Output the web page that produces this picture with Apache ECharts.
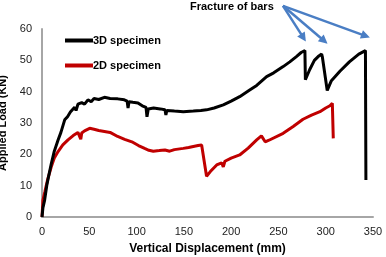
<!DOCTYPE html>
<html><head><meta charset="utf-8">
<script src="https://cdn.jsdelivr.net/npm/echarts@6/dist/echarts.min.js"></script>
<style>html,body{margin:0;padding:0;background:#fff}#c{width:386px;height:257px}</style>
</head><body><div id="c"></div>
<script>
const seriesNames = ['3D specimen', '2D specimen'];
const xTicks = [0, 50, 100, 150, 200, 250, 300, 350];
const yTicks = [0, 10, 20, 30, 40, 50, 60];
const data3D = [[0,0],[1,3],[2.8,5.4],[5,10],[7,13],[9.8,17],[13,21],[17,24.6],[20,27],[24,31],[27,32],[30,33.5],[34.5,35],[36,34],[38,36],[42,36.5],[45,36],[48.6,37.4],[52,36.8],[55,37.8],[60,37.5],[66,38.2],[72,37.8],[80,37.7],[87,37.4],[90,37],[91,34.8],[92,36.8],[96,36.6],[101.5,36.4],[106,35.5],[110,35],[111,32],[112.4,34.5],[118,34.8],[125,34.5],[130,34.2],[131,32.6],[132,34],[140,33.8],[149.4,33.6],[160,33.8],[168,34],[174,34.2],[182,34.8],[191.7,35.8],[200,37],[209,38.4],[220,40.6],[227,42],[237.5,44.8],[245,46],[255,48],[262,49.5],[269,51.2],[274,52.5],[278,53.1],[278.5,43.8],[283,47],[288,50],[292,51.2],[295.7,52],[296.5,51],[301.6,40.4],[306,43.5],[315,46.5],[325,49.5],[335,52],[342,53.1],[342.5,11.8]];
const data2D = [[0,0],[1,5.4],[3,8],[6,12],[9.8,16],[13,18.8],[17,20.9],[22,23],[27.5,24.6],[33,26],[38,27],[40,26.5],[41,24.8],[42,26.8],[45,27.5],[50.4,28.3],[55,28],[60,27.6],[66,27.3],[72,27],[80,25.7],[87.4,24.8],[95,24],[102,22.8],[108.5,21.9],[113,21.3],[117.7,21],[124,21.2],[130,21.4],[135,21],[140,21.5],[149.4,21.9],[155,22.2],[160,22.5],[165,22.8],[168.8,23],[170.5,22.8],[174,13],[178,14.5],[184.7,16.6],[190,17.3],[191.7,16],[193.4,17.8],[200,18.8],[209,19.8],[218,22],[227,24.6],[232,25.9],[236,24],[240,24.5],[255,26.7],[265.6,28.9],[276,31.2],[285,32.5],[293.9,33.6],[300,34.8],[304.4,35.5],[307,36.3],[308,25.1]];
const annotationText = 'Fracture of bars';
const arrowStart = [254.8, 67.4];
const arrowTargets = [[279, 56], [302, 55.3], [346.7, 57.3]];

const font = 'Liberation Sans';
const chart = echarts.init(document.getElementById('c'), null, {renderer: 'canvas'});
chart.setOption({
  animation: false,
  grid: {left: 42, right: 13, top: 29, bottom: 40, containLabel: false, outerBoundsMode: 'none'},
  legend: {
    orient: 'vertical', left: 60, top: 30, itemGap: 14,
    itemWidth: 28, itemHeight: 4, icon: 'rect',
    textStyle: {fontFamily: font, fontWeight: 'bold', fontSize: 11, color: '#000', padding: [0,0,0,-5]},
    data: seriesNames
  },
  xAxis: {
    type: 'value', min: 0, max: 350, interval: 50,
    name: 'Vertical Displacement (mm)', nameLocation: 'middle', nameGap: 26,
    nameTextStyle: {fontFamily: font, fontWeight: 'bold', fontSize: 12, color: '#000'},
    axisLine: {lineStyle: {color: '#A6A6A6', width: 2}},
    axisTick: {show: false},
    splitLine: {show: false},
    axisLabel: {fontFamily: font, fontSize: 11, color: '#222', margin: 9}
  },
  yAxis: {
    type: 'value', min: 0, max: 60, interval: 10,
    name: 'Applied Load (KN)', nameLocation: 'middle', nameGap: 26,
    nameTextStyle: {fontFamily: font, fontWeight: 'bold', fontSize: 11, color: '#000'},
    axisLine: {show: true, lineStyle: {color: '#A6A6A6', width: 2}},
    axisTick: {show: false},
    splitLine: {show: false},
    axisLabel: {fontFamily: font, fontSize: 11, color: '#222', margin: 10}
  },
  series: [
    {
      name: seriesNames[0], type: 'line', data: data3D, showSymbol: false, symbol: 'none',
      color: '#000', lineStyle: {color: '#000', width: 3}, z: 3
    },
    {
      name: seriesNames[1], type: 'line', data: data2D, showSymbol: false, symbol: 'none',
      color: '#C00000', lineStyle: {color: '#C00000', width: 3}, z: 2
    }
  ]
});

// annotation arrows placed through the axes' own scales
const p0 = chart.convertToPixel({gridIndex: 0}, arrowStart);
const graphics = [{
  type: 'text', left: 190, top: 1,
  style: {text: annotationText, font: 'bold 11px "Liberation Sans"', fill: '#000'}
}];
const arrowColor = '#4A7EC4';
arrowTargets.forEach(t => {
  const p1 = chart.convertToPixel({gridIndex: 0}, t);
  const dx = p1[0] - p0[0], dy = p1[1] - p0[1];
  const len = Math.sqrt(dx * dx + dy * dy);
  const ux = dx / len, uy = dy / len;
  const headLen = 9, headW = 4.5;
  const bx = p1[0] - ux * headLen, by = p1[1] - uy * headLen;
  graphics.push({
    type: 'line', z: 10,
    shape: {x1: p0[0], y1: p0[1], x2: bx + ux * 2, y2: by + uy * 2},
    style: {stroke: arrowColor, lineWidth: 2.5}
  });
  graphics.push({
    type: 'polygon', z: 10,
    shape: {points: [[p1[0], p1[1]], [bx - uy * headW, by + ux * headW], [bx + uy * headW, by - ux * headW]]},
    style: {fill: arrowColor}
  });
});
chart.setOption({graphic: graphics});
</script></body></html>
